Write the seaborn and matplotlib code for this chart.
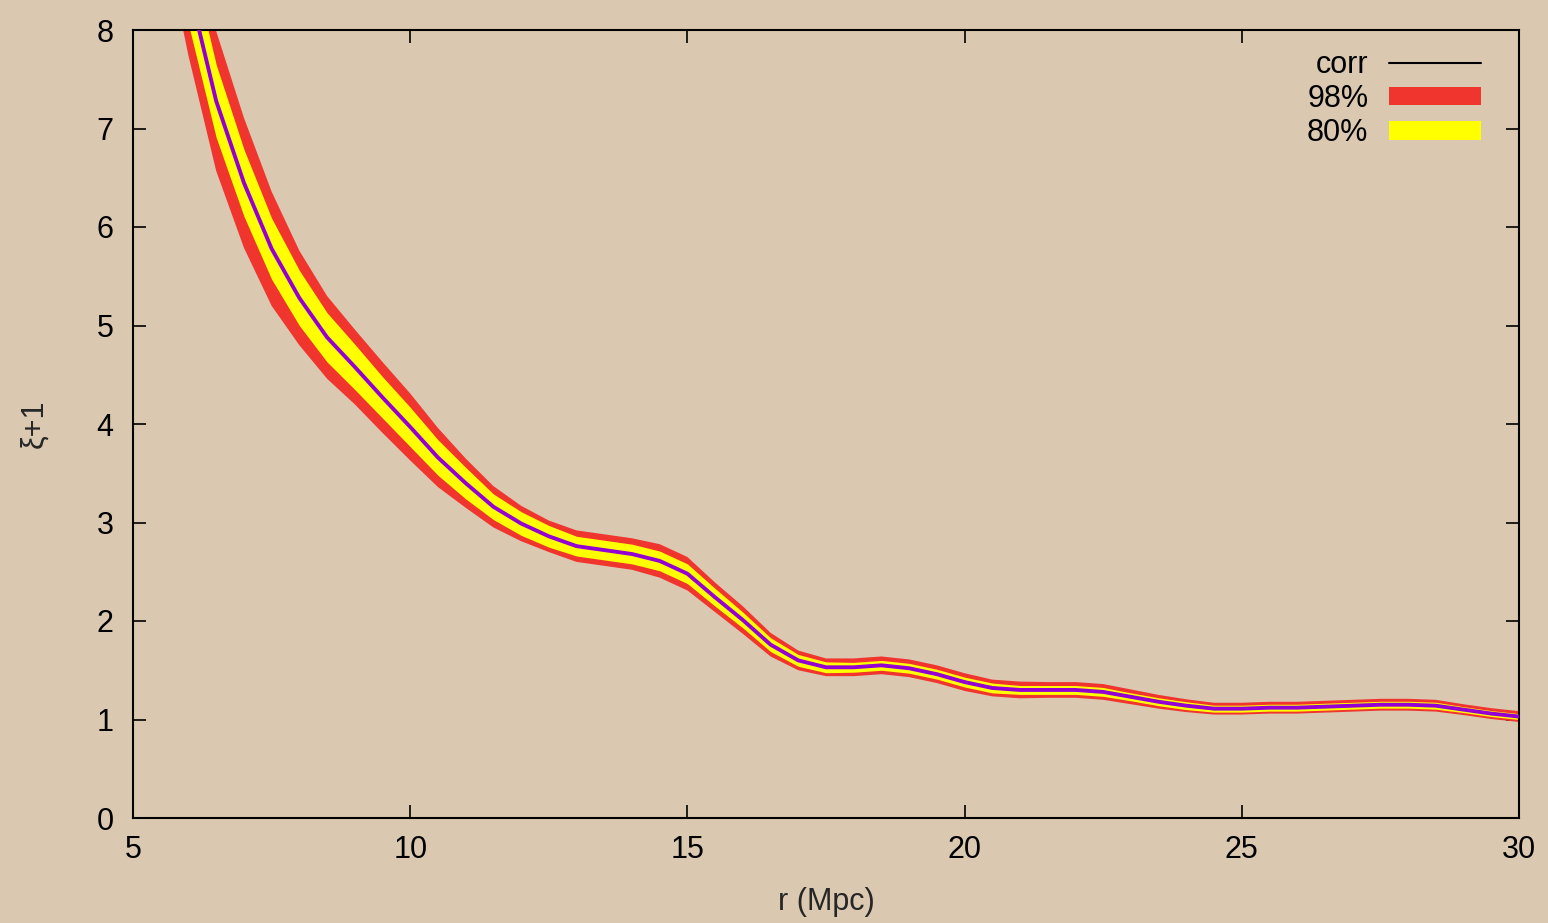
import numpy as np
import pandas as pd
import matplotlib
matplotlib.use("Agg")
import matplotlib.pyplot as plt
from matplotlib.lines import Line2D
from matplotlib.patches import Patch
import seaborn as sns

# separation r (Mpc)
r_mpc = [5.5, 6.0, 6.5, 7.0, 7.5, 8.0, 8.5, 9.0, 9.5, 10.0,
         10.5, 11.0, 11.5, 12.0, 12.5, 13.0, 13.5, 14.0, 14.5, 15.0,
         15.5, 16.0, 16.5, 17.0, 17.5, 18.0, 18.5, 19.0, 19.5, 20.0,
         20.5, 21.0, 21.5, 22.0, 22.5, 23.0, 23.5, 24.0, 24.5, 25.0,
         25.5, 26.0, 26.5, 27.0, 27.5, 28.0, 28.5, 29.0, 29.5, 30.0]

# correlation xi+1
corr = [9.85, 8.45, 7.28, 6.45, 5.78, 5.28, 4.88, 4.58, 4.27, 3.97,
        3.66, 3.40, 3.16, 2.99, 2.86, 2.76, 2.72, 2.68, 2.61, 2.48,
        2.24, 2.01, 1.76, 1.60, 1.53, 1.53, 1.55, 1.52, 1.46, 1.38,
        1.32, 1.30, 1.30, 1.30, 1.28, 1.23, 1.18, 1.14, 1.11, 1.11,
        1.12, 1.12, 1.13, 1.14, 1.15, 1.15, 1.14, 1.10, 1.06, 1.03]

# 98% band
lo98 = [9.10, 7.74, 6.57, 5.79, 5.20, 4.80, 4.46, 4.20, 3.91, 3.63,
        3.36, 3.15, 2.95, 2.81, 2.70, 2.60, 2.56, 2.52, 2.44, 2.31,
        2.09, 1.87, 1.64, 1.50, 1.44, 1.44, 1.46, 1.43, 1.37, 1.29,
        1.235, 1.215, 1.22, 1.22, 1.20, 1.155, 1.11, 1.075, 1.05, 1.05,
        1.06, 1.06, 1.07, 1.08, 1.09, 1.09, 1.08, 1.045, 1.005, 0.975]
hi98 = [10.60, 9.16, 7.99, 7.11, 6.36, 5.76, 5.30, 4.96, 4.63, 4.31,
        3.96, 3.65, 3.37, 3.17, 3.02, 2.92, 2.88, 2.84, 2.78, 2.65,
        2.39, 2.15, 1.88, 1.70, 1.62, 1.62, 1.64, 1.61, 1.55, 1.47,
        1.405, 1.385, 1.38, 1.38, 1.36, 1.305, 1.25, 1.205, 1.17, 1.17,
        1.18, 1.18, 1.19, 1.20, 1.21, 1.21, 1.20, 1.155, 1.115, 1.085]

# 80% band
lo80 = [9.45, 8.06, 6.91, 6.11, 5.47, 5.00, 4.63, 4.35, 4.06, 3.77,
        3.48, 3.24, 3.03, 2.87, 2.75, 2.66, 2.62, 2.58, 2.51, 2.38,
        2.15, 1.93, 1.69, 1.54, 1.475, 1.48, 1.50, 1.47, 1.41, 1.33,
        1.27, 1.255, 1.255, 1.255, 1.235, 1.19, 1.14, 1.10, 1.075, 1.075,
        1.085, 1.085, 1.095, 1.105, 1.115, 1.115, 1.105, 1.07, 1.03, 1.00]
hi80 = [10.25, 8.84, 7.65, 6.79, 6.09, 5.56, 5.13, 4.81, 4.48, 4.17,
        3.84, 3.56, 3.29, 3.11, 2.97, 2.86, 2.82, 2.78, 2.71, 2.58,
        2.33, 2.09, 1.83, 1.66, 1.585, 1.58, 1.60, 1.57, 1.51, 1.43,
        1.37, 1.345, 1.345, 1.345, 1.325, 1.27, 1.22, 1.18, 1.145, 1.145,
        1.155, 1.155, 1.165, 1.175, 1.185, 1.185, 1.175, 1.13, 1.09, 1.06]

x_ticks = [5, 10, 15, 20, 25, 30]
y_ticks = [0, 1, 2, 3, 4, 5, 6, 7, 8]
legend_labels = ["corr", "98%", "80%"]

PAPER = "#dac9b0"
RED = "#f0352f"
YELLOW = "#ffff00"
PURPLE = "#9400d3"
FS = 22

sns.set_theme(style="ticks")
plt.rcParams["font.family"] = ["Liberation Sans", "DejaVu Sans"]
plt.rcParams["axes.edgecolor"] = "black"
plt.rcParams["text.color"] = "black"

df = pd.DataFrame({"r": r_mpc, "corr": corr,
                   "lo98": lo98, "hi98": hi98, "lo80": lo80, "hi80": hi80})

fig = plt.figure(figsize=(15.48, 9.23), dpi=100, facecolor=PAPER)
ax = fig.add_axes([133 / 1548, 1 - 818 / 923, (1519 - 133) / 1548, (818 - 30) / 923])
ax.set_facecolor(PAPER)

ax.fill_between(df["r"], df["lo98"], df["hi98"], color=RED, linewidth=0, zorder=1)
ax.fill_between(df["r"], df["lo80"], df["hi80"], color=YELLOW, linewidth=0, zorder=2)
sns.lineplot(data=df, x="r", y="corr", ax=ax, color=PURPLE, linewidth=2.8,
             zorder=3, legend=False)

ax.set_xlim(5, 30)
ax.set_ylim(0, 8)
ax.set_xticks(x_ticks)
ax.set_yticks(y_ticks)
ax.set_xticklabels([str(v) for v in x_ticks])
ax.set_yticklabels([str(v) for v in y_ticks])
ax.set_xlabel("r (Mpc)", fontsize=FS, labelpad=16)
ax.set_ylabel("ξ+1", fontsize=FS, labelpad=34)

for s in ax.spines.values():
    s.set_linewidth(1.5)
    s.set_color("black")
    s.set_visible(True)

ax.tick_params(axis="both", which="major", direction="in", length=9.5, width=1.2,
               top=True, right=True, labelsize=FS, colors="black")
ax.tick_params(axis="x", pad=12)
ax.tick_params(axis="y", pad=14)
ax.grid(False)

handles = [Line2D([], [], color="black", linewidth=1.5),
           Patch(facecolor=RED, edgecolor="none"),
           Patch(facecolor=YELLOW, edgecolor="none")]
ax.legend(handles, legend_labels, loc="upper right", frameon=False,
          markerfirst=False, fontsize=FS, handlelength=3.0, handleheight=0.56,
          handletextpad=0.69, labelspacing=0.14, borderpad=0.0, borderaxespad=0.0,
          bbox_to_anchor=(0.9726, 0.975))

fig.savefig("out.png", dpi=100, facecolor=PAPER)
